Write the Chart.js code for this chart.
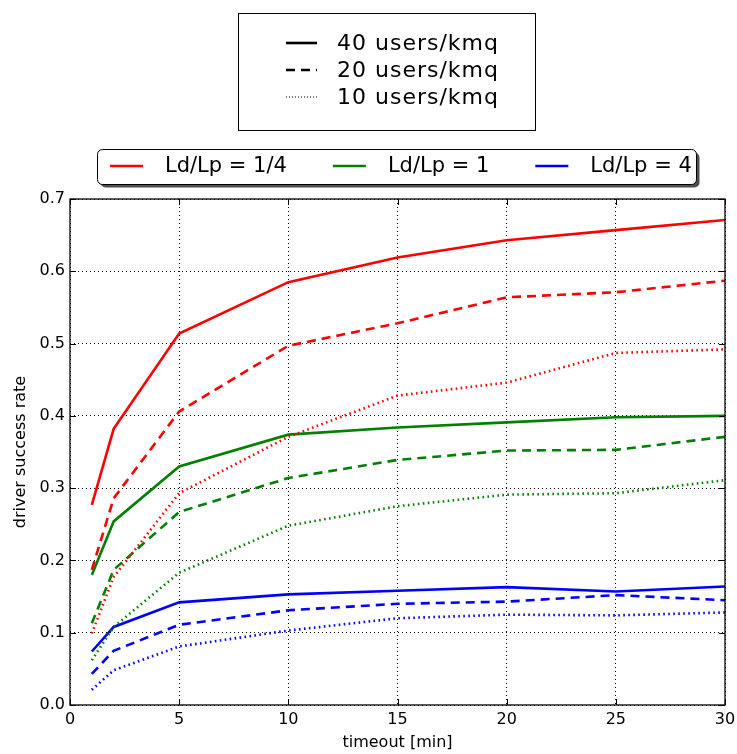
<!DOCTYPE html>
<html>
<head>
<meta charset="utf-8">
<script src="https://cdn.jsdelivr.net/npm/chart.js@4/dist/chart.umd.min.js"></script>
<style>
  html, body { margin: 0; padding: 0; background: #fff; }
  canvas { display: block; }
</style>
</head>
<body>
<canvas id="c" width="737" height="754"></canvas>
<script>
// ---- data ----
const timeouts = [1, 2, 5, 10, 15, 20, 25, 30];
const xTicks = [0, 5, 10, 15, 20, 25, 30];
const yTicks = [0.0, 0.1, 0.2, 0.3, 0.4, 0.5, 0.6, 0.7];

const ratioLabels = ['Ld/Lp = 1/4', 'Ld/Lp = 1', 'Ld/Lp = 4'];
const ratioColors = ['#ff0000', '#008000', '#0000ff'];
const densityLabels = ['40 users/kmq', '20 users/kmq', '10 users/kmq'];

// Ld/Lp = 1/4
const quarter40 = [0.277, 0.382, 0.514, 0.585, 0.619, 0.643, 0.657, 0.671];
const quarter20 = [0.187, 0.286, 0.406, 0.497, 0.528, 0.564, 0.571, 0.587];
const quarter10 = [0.099, 0.177, 0.293, 0.371, 0.428, 0.446, 0.487, 0.492];
// Ld/Lp = 1
const one40 = [0.180, 0.254, 0.330, 0.374, 0.384, 0.391, 0.398, 0.400];
const one20 = [0.113, 0.187, 0.267, 0.314, 0.339, 0.352, 0.353, 0.371];
const one10 = [0.062, 0.108, 0.183, 0.248, 0.275, 0.291, 0.293, 0.311];
// Ld/Lp = 4
const four40 = [0.074, 0.108, 0.142, 0.153, 0.158, 0.163, 0.157, 0.164];
const four20 = [0.043, 0.075, 0.111, 0.131, 0.140, 0.143, 0.152, 0.145];
const four10 = [0.021, 0.048, 0.081, 0.103, 0.120, 0.125, 0.124, 0.128];

const seriesByRatio = [
  [quarter40, quarter20, quarter10],
  [one40, one20, one10],
  [four40, four20, four10]
];

// ---- styles ----
const FONT = 'DejaVu Sans';
const LINE_W = 2.6;
const dashStyles = [[], [9, 6], [1.6, 3.4]];

const datasets = [];
seriesByRatio.forEach((group, r) => {
  group.forEach((vals, d) => {
    datasets.push({
      label: ratioLabels[r] + ' ' + densityLabels[d],
      data: timeouts.map((t, i) => ({ x: t, y: vals[i] })),
      borderColor: ratioColors[r],
      backgroundColor: ratioColors[r],
      borderWidth: LINE_W,
      borderDash: dashStyles[d],
      borderCapStyle: 'butt',
      pointRadius: 0,
      tension: 0,
      fill: false
    });
  });
});

const frameAndLegends = {
  id: 'frameAndLegends',
  afterDraw(chart) {
    const ctx = chart.ctx;
    const a = chart.chartArea;
    const xs = chart.scales.x, ys = chart.scales.y;
    ctx.save();
    // inward ticks on all four sides
    ctx.strokeStyle = '#000';
    ctx.lineWidth = 1;
    ctx.setLineDash([]);
    const TL = 6;
    xTicks.forEach(v => {
      const px = Math.round(xs.getPixelForValue(v)) + 0.5;
      ctx.beginPath();
      ctx.moveTo(px, a.bottom); ctx.lineTo(px, a.bottom - TL);
      ctx.moveTo(px, a.top); ctx.lineTo(px, a.top + TL);
      ctx.stroke();
    });
    yTicks.forEach(v => {
      const py = Math.round(ys.getPixelForValue(v)) + 0.5;
      ctx.beginPath();
      ctx.moveTo(a.left, py); ctx.lineTo(a.left + TL, py);
      ctx.moveTo(a.right, py); ctx.lineTo(a.right - TL, py);
      ctx.stroke();
    });
    // frame
    ctx.lineWidth = 1.3;
    ctx.strokeRect(a.left, a.top, a.right - a.left, a.bottom - a.top);

    // ---- density legend (top box) ----
    ctx.fillStyle = '#fff';
    ctx.fillRect(238, 13, 297, 117);
    ctx.strokeStyle = '#000';
    ctx.lineWidth = 1;
    ctx.strokeRect(238.5, 13.5, 297, 117);
    ctx.font = '22px "' + FONT + '"';
    if ('letterSpacing' in ctx) ctx.letterSpacing = '1px';
    ctx.textBaseline = 'middle';
    ctx.textAlign = 'left';
    const rowY = [43, 70, 97];
    densityLabels.forEach((lab, i) => {
      ctx.strokeStyle = '#000';
      ctx.lineWidth = i === 2 ? 1 : 2.6;
      ctx.setLineDash(i === 2 ? [1, 2] : (i === 1 ? [9, 6] : []));
      ctx.beginPath();
      ctx.moveTo(286, rowY[i]); ctx.lineTo(317, rowY[i]);
      ctx.stroke();
      ctx.setLineDash([]);
      ctx.fillStyle = '#000';
      ctx.fillText(lab, 337, rowY[i] + 1);
    });
    if ('letterSpacing' in ctx) ctx.letterSpacing = '0px';

    // ---- ratio legend (second box, rounded, shadow) ----
    const bx = 97.5, by = 149.5, bw = 599, bh = 35, rr = 5;
    const rrect = (x, y, w, h, r) => {
      ctx.beginPath();
      ctx.moveTo(x + r, y);
      ctx.lineTo(x + w - r, y); ctx.arcTo(x + w, y, x + w, y + r, r);
      ctx.lineTo(x + w, y + h - r); ctx.arcTo(x + w, y + h, x + w - r, y + h, r);
      ctx.lineTo(x + r, y + h); ctx.arcTo(x, y + h, x, y + h - r, r);
      ctx.lineTo(x, y + r); ctx.arcTo(x, y, x + r, y, r);
      ctx.closePath();
    };
    ctx.fillStyle = '#4d4d4d';
    rrect(bx + 3, by + 3, bw, bh, rr); ctx.fill();
    ctx.fillStyle = '#fff';
    rrect(bx, by, bw, bh, rr); ctx.fill();
    ctx.strokeStyle = '#000'; ctx.lineWidth = 1;
    rrect(bx, by, bw, bh, rr); ctx.stroke();
    ctx.font = '21px "' + FONT + '"';
    let x = 110;
    const ly = 166;
    ratioLabels.forEach((lab, i) => {
      ctx.strokeStyle = ratioColors[i];
      ctx.lineWidth = 2.6;
      ctx.beginPath();
      ctx.moveTo(x, ly); ctx.lineTo(x + 33, ly);
      ctx.stroke();
      ctx.fillStyle = '#000';
      ctx.fillText(lab, x + 55, ly + 1);
      x = x + 55 + ctx.measureText(lab).width + 46;
    });
    ctx.restore();
  }
};

new Chart(document.getElementById('c'), {
  type: 'line',
  data: { datasets },
  options: {
    responsive: false,
    animation: false,
    layout: { padding: { top: 199, right: 12, left: 0, bottom: 0 } },
    plugins: { legend: { display: false }, tooltip: { enabled: false } },
    scales: {
      x: {
        type: 'linear', min: 0, max: 30,
        afterBuildTicks: s => { s.ticks = xTicks.map(v => ({ value: v })); },
        afterFit: s => { s.height = 49; s.paddingLeft = 0; s.paddingRight = 0; },
        ticks: { color: '#000', font: { family: FONT, size: 16 }, padding: 5, maxRotation: 0,
                 callback: v => String(v) },
        grid: { color: '#000', lineWidth: 1, drawTicks: false },
        border: { display: false, dash: [1, 3] },
        title: { display: true, text: 'timeout [min]', color: '#000',
                 font: { family: FONT, size: 16 }, padding: { top: 0, bottom: 2 } }
      },
      y: {
        type: 'linear', min: 0, max: 0.7,
        afterBuildTicks: s => { s.ticks = yTicks.map(v => ({ value: v })); },
        afterFit: s => { s.width = 70; s.paddingTop = 0; s.paddingBottom = 0; },
        ticks: { color: '#000', font: { family: FONT, size: 16 }, padding: 5,
                 callback: v => Number(v).toFixed(1) },
        grid: { color: '#000', lineWidth: 1, drawTicks: false },
        border: { display: false, dash: [1, 3] },
        title: { display: true, text: 'driver success rate', color: '#000',
                 font: { family: FONT, size: 16 }, padding: { top: 11, bottom: 0 } }
      }
    }
  },
  plugins: [frameAndLegends]
});
</script>
</body>
</html>
